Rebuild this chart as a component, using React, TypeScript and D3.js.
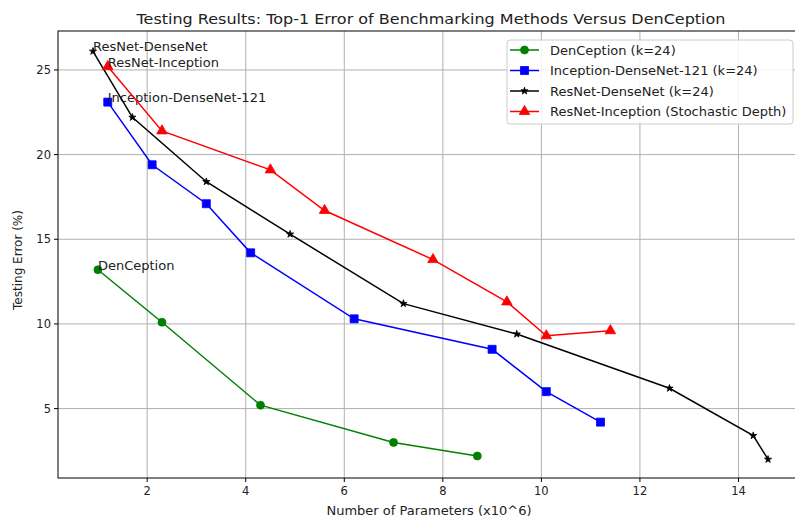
import * as d3 from 'd3';

// parameters (x10^6) and top-1 error (%)
const dencepX = [1.0, 2.3, 4.3, 7.0, 8.7];
const dencepY = [13.2, 10.1, 5.2, 3.0, 2.2];
const incDenseX = [1.2, 2.1, 3.2, 4.1, 6.2, 9.0, 10.1, 11.2];
const incDenseY = [23.1, 19.4, 17.1, 14.2, 10.3, 8.5, 6.0, 4.2];
const resDenseX = [0.9, 1.7, 3.2, 4.9, 7.2, 9.5, 12.6, 14.3, 14.6];
const resDenseY = [26.1, 22.2, 18.4, 15.3, 11.2, 9.4, 6.2, 3.4, 2.0];
const resIncX = [1.2, 2.3, 4.5, 5.6, 7.8, 9.3, 10.1, 11.4];
const resIncY = [25.2, 21.4, 19.1, 16.7, 13.8, 11.3, 9.3, 9.6];

const xTicks = [2, 4, 6, 8, 10, 12, 14];
const yTicks = [5, 10, 15, 20, 25];

const series = [
  { name: 'DenCeption (k=24)', note: 'DenCeption', xs: dencepX, ys: dencepY, color: 'green', marker: 'circle' },
  { name: 'Inception-DenseNet-121 (k=24)', note: 'Inception-DenseNet-121', xs: incDenseX, ys: incDenseY, color: 'blue', marker: 'square' },
  { name: 'ResNet-DenseNet (k=24)', note: 'ResNet-DenseNet', xs: resDenseX, ys: resDenseY, color: 'black', marker: 'star' },
  { name: 'ResNet-Inception (Stochastic Depth)', note: 'ResNet-Inception', xs: resIncX, ys: resIncY, color: 'red', marker: 'triangle' },
];

const W = 795;
const H = 520;
const left = 58, right = 805, top = 31, bottom = 478;
const font = 'DejaVu Sans, sans-serif';

const symbols: Record<string, any> = {
  circle: d3.symbol(d3.symbolCircle, 50),
  square: d3.symbol(d3.symbolSquare, 64),
  star: d3.symbol(d3.symbolStar, 16),
  triangle: d3.symbol(d3.symbolTriangle, 48),
};

function Marker({ kind, x, y, color }: { kind: string; x: number; y: number; color: string }) {
  return <path d={symbols[kind]()} transform={`translate(${x},${y})`} fill={color} stroke={color} strokeWidth={0.8} />;
}

export default function App() {
  const x = d3.scaleLinear().domain([0.19, 15.35]).range([left, right]);
  const y = d3.scaleLinear().domain([0.9, 27.3]).range([bottom, top]);
  const line = d3.line<number>();

  return (
    <svg width={W} height={H} style={{ position: 'absolute', left: 0, top: 0, background: '#fff' }} fontFamily={font}>
      <text x={431} y={24} fontSize={14} textAnchor="middle" fill="#222" textLength={589} lengthAdjust="spacingAndGlyphs">
        Testing Results: Top-1 Error of Benchmarking Methods Versus DenCeption
      </text>

      {/* grid */}
      {xTicks.map(t => (
        <line key={'gx' + t} x1={x(t)} x2={x(t)} y1={top} y2={bottom} stroke="#b0b0b0" strokeWidth={1} />
      ))}
      {yTicks.map(t => (
        <line key={'gy' + t} x1={left} x2={right} y1={y(t)} y2={y(t)} stroke="#b0b0b0" strokeWidth={1} />
      ))}

      {/* series */}
      {series.map(s => {
        const pts = s.xs.map((v, i) => [x(v), y(s.ys[i])] as [number, number]);
        return (
          <g key={s.name}>
            <path d={line(pts as any) || ''} fill="none" stroke={s.color} strokeWidth={1.5} />
            {pts.map((p, i) => <Marker key={i} kind={s.marker} x={p[0]} y={p[1]} color={s.color} />)}
            <text x={pts[0][0]} y={pts[0][1]} fontSize={13} fill="#222">{s.note}</text>
          </g>
        );
      })}

      {/* spines */}
      <rect x={left} y={top} width={right - left} height={bottom - top} fill="none" stroke="#000" strokeWidth={1} />

      {/* ticks */}
      {xTicks.map(t => (
        <g key={'tx' + t}>
          <line x1={x(t)} x2={x(t)} y1={bottom} y2={bottom + 4} stroke="#000" />
          <text x={x(t)} y={bottom + 17} fontSize={11.5} textAnchor="middle" fill="#222">{t}</text>
        </g>
      ))}
      {yTicks.map(t => (
        <g key={'ty' + t}>
          <line x1={left - 4} x2={left} y1={y(t)} y2={y(t)} stroke="#000" />
          <text x={left - 7} y={y(t) + 4} fontSize={11.5} textAnchor="end" fill="#222">{t}</text>
        </g>
      ))}

      <text x={429} y={515} fontSize={13} textAnchor="middle" fill="#222">Number of Parameters (x10^6)</text>
      <text transform="translate(22,260) rotate(-90)" fontSize={12} textAnchor="middle" fill="#222">Testing Error (%)</text>

      {/* legend */}
      <rect x={507} y={40} width={286} height={84} rx={3} fill="#fff" fillOpacity={0.85} stroke="#ccc" />
      {series.map((s, i) => {
        const ly = 50 + i * 20.5;
        return (
          <g key={'lg' + i}>
            <line x1={510} x2={539} y1={ly} y2={ly} stroke={s.color} strokeWidth={1.5} />
            <Marker kind={s.marker} x={524.5} y={ly} color={s.color} />
            <text x={550} y={ly + 4.5} fontSize={13} fill="#222">{s.name}</text>
          </g>
        );
      })}
    </svg>
  );
}
